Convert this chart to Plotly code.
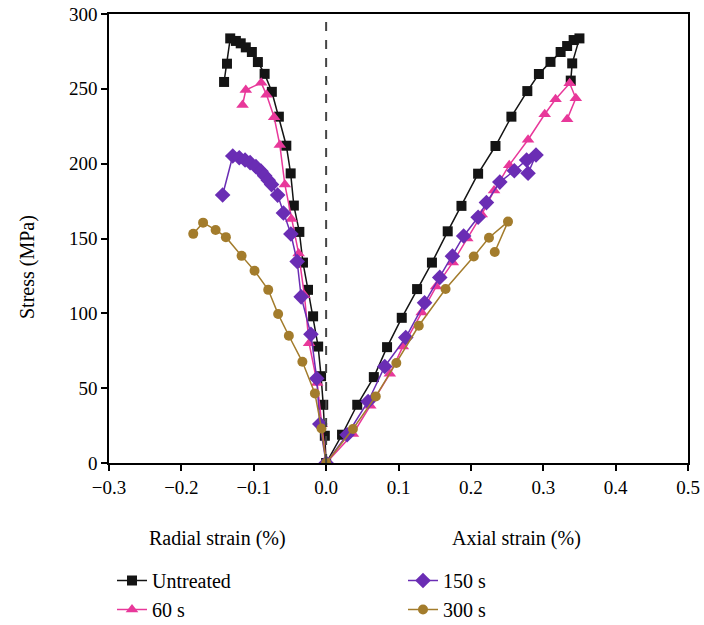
import plotly.graph_objects as go

# ---- data (strain in %, stress in MPa), each curve listed from origin outward ----
untreated_radial_x = [0, -0.0018, -0.004, -0.007, -0.011, -0.018, -0.025, -0.032, -0.037, -0.0446, -0.049, -0.055,
                      -0.0653, -0.075, -0.085, -0.0943, -0.1026, -0.111, -0.118, -0.1247, -0.1325, -0.137, -0.141]
untreated_radial_y = [0, 18.2, 38.9, 58, 77.8, 98, 115.7, 133.9, 154.4, 172, 193.5, 212,
                      231.4, 248, 260, 267.9, 274.6, 277.7, 280.4, 282, 283.7, 266.8, 254.6]
untreated_axial_x = [0, 0.022, 0.043, 0.0659, 0.0842, 0.1045, 0.1257, 0.1462, 0.168, 0.187, 0.21, 0.234,
                     0.256, 0.278, 0.294, 0.31, 0.324, 0.333, 0.342, 0.35, 0.34, 0.338]
untreated_axial_y = [0, 18.9, 38.9, 57.4, 77.4, 97, 116.2, 133.9, 154.8, 171.8, 193.3, 211.8,
                     231.4, 248.5, 259.9, 268, 274.6, 278.6, 282.6, 283.7, 267, 255.5]

s60_radial_x = [0, -0.006, -0.0124, -0.0235, -0.03, -0.038, -0.048, -0.057, -0.064, -0.0718, -0.0823, -0.0897,
                -0.111, -0.1155]
s60_radial_y = [0, 26, 53.4, 80, 112, 140, 163, 186, 212.5, 231, 246, 254, 249.2, 239.2]
s60_axial_x = [0, 0.037, 0.061, 0.088, 0.106, 0.132, 0.152, 0.175, 0.195, 0.215, 0.232, 0.253, 0.279,
               0.302, 0.317, 0.3365, 0.345, 0.333]
s60_axial_y = [0, 19.4, 38.3, 59.6, 77.8, 100.5, 117.9, 134, 150, 166, 182, 199, 216,
               233, 243, 253.7, 243.7, 229.6]

s150_radial_x = [0, -0.0087, -0.013, -0.021, -0.0345, -0.04, -0.0487, -0.059, -0.067, -0.0754, -0.08, -0.085,
                 -0.09, -0.097, -0.105, -0.112, -0.12, -0.129, -0.143]
s150_radial_y = [0, 26, 56.5, 86, 111, 134.6, 153, 167, 179, 186, 189, 192,
                 195, 198, 200.7, 202.5, 204, 205.1, 179.1]
s150_axial_x = [0, 0.029, 0.058, 0.081, 0.11, 0.136, 0.157, 0.1745, 0.19, 0.21, 0.2215, 0.24,
                0.26, 0.277, 0.29, 0.279]
s150_axial_y = [0, 18.9, 41.1, 64.5, 83.8, 107, 124, 138.2, 151.7, 164.2, 174, 187.7,
                195.3, 202.5, 205.8, 193.6]

s300_radial_x = [0, -0.0064, -0.0155, -0.0328, -0.0515, -0.0663, -0.08, -0.0989, -0.1168, -0.1385,
                 -0.1527, -0.17, -0.1836]
s300_radial_y = [0, 23, 46.5, 67.6, 85, 99.5, 115.7, 128.4, 138.4, 150.9, 155.7, 160.6, 153.1]
s300_axial_x = [0, 0.037, 0.0686, 0.097, 0.128, 0.165, 0.204, 0.225, 0.2513, 0.233]
s300_axial_y = [0, 22.7, 44.5, 66.8, 91.7, 116.3, 138, 150.5, 161.3, 141]

x_ticks = [-0.3, -0.2, -0.1, 0.0, 0.1, 0.2, 0.3, 0.4, 0.5]
y_ticks = [0, 50, 100, 150, 200, 250, 300]

FONT = "Liberation Serif"

series = [
    ("Untreated", untreated_radial_x, untreated_radial_y, untreated_axial_x, untreated_axial_y,
     "#141414", "square", 10, "legend"),
    ("60 s", s60_radial_x, s60_radial_y, s60_axial_x, s60_axial_y,
     "#e8389a", "triangle-up", 11, "legend"),
    ("150 s", s150_radial_x, s150_radial_y, s150_axial_x, s150_axial_y,
     "#6a2db4", "diamond", 12, "legend2"),
    ("300 s", s300_radial_x, s300_radial_y, s300_axial_x, s300_axial_y,
     "#a37c2c", "circle", 10, "legend2"),
]

fig = go.Figure()
for name, rx, ry, ax, ay, color, sym, size, leg in series:
    xs = list(reversed(rx)) + ax[1:]
    ys = list(reversed(ry)) + ay[1:]
    fig.add_trace(go.Scatter(
        x=xs, y=ys, mode="lines+markers", name=name, legend=leg, legendgroup=name,
        line=dict(color=color, width=1.5),
        marker=dict(symbol=sym, size=size, color=color, line=dict(width=0)),
    ))

fig.add_vline(x=0, line=dict(color="#444444", width=2, dash="dash"))

axis_common = dict(
    showline=True, linecolor="black", linewidth=1.5, mirror=True,
    ticks="outside", ticklen=6, tickwidth=1.5, tickcolor="black",
    showgrid=False, zeroline=False,
    tickfont=dict(family=FONT, size=19, color="black"),
)

fig.update_xaxes(range=[-0.3, 0.5], tickvals=x_ticks, tickformat=".1f", **axis_common)
fig.update_yaxes(range=[0, 300], tickvals=y_ticks, **axis_common)

PW, PH, L, B = 579, 449, 109, 463
ann_font = dict(family=FONT, size=20, color="black")
ann_common = dict(xref="paper", yref="paper", showarrow=False, font=ann_font,
                  xanchor="center", yanchor="middle")
fig.add_annotation(text="Radial strain (%)", x=(217 - L) / PW, y=(B - 538) / PH, **ann_common)
fig.add_annotation(text="Axial strain (%)", x=(516 - L) / PW, y=(B - 538) / PH, **ann_common)
fig.add_annotation(text="Stress (MPa)", x=(27 - L) / PW, y=(B - 267) / PH, textangle=-90, **ann_common)

leg_common = dict(font=dict(family=FONT, size=20, color="black"), bgcolor="rgba(0,0,0,0)",
                  orientation="v", yanchor="top", xanchor="left", tracegroupgap=0)

fig.update_layout(
    width=704, height=625,
    margin=dict(l=L, r=16, t=14, b=162, autoexpand=False),
    paper_bgcolor="white", plot_bgcolor="white",
    showlegend=True,
    legend=dict(x=(112 - L) / PW, y=(B - 561) / PH, **leg_common),
    legend2=dict(x=(403 - L) / PW, y=(B - 561) / PH, **leg_common),
)

fig.write_html("out.html")
